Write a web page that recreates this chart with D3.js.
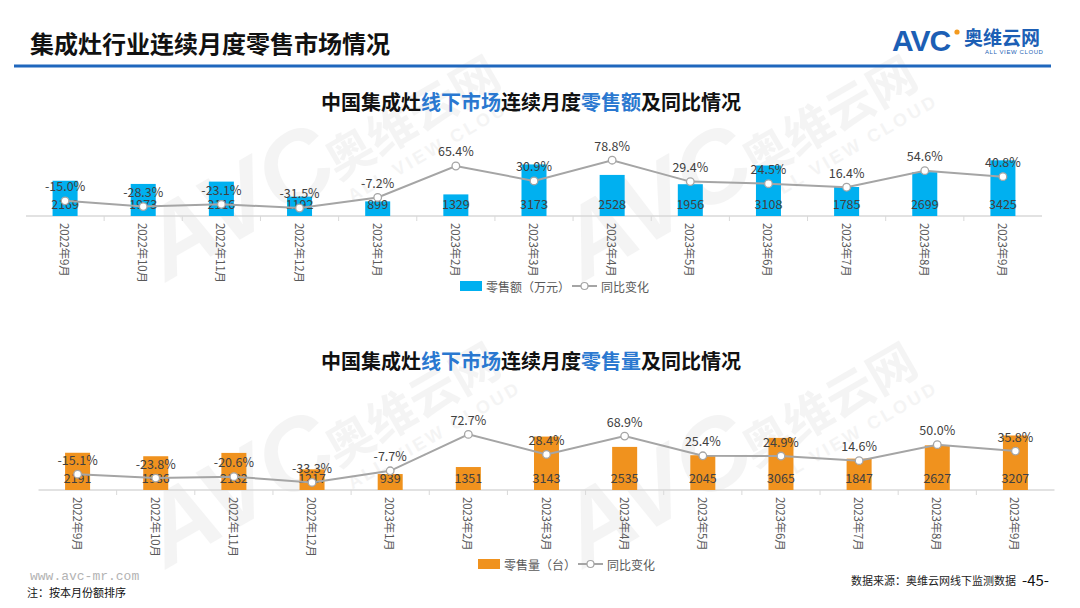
<!DOCTYPE html>
<html><head><meta charset="utf-8">
<script src="https://cdn.jsdelivr.net/npm/d3@7/dist/d3.min.js"></script>
<style>
html,body{margin:0;padding:0;background:#fff;}
svg{display:block;font-family:"Noto Sans CJK SC","Noto Sans",sans-serif;}
</style></head>
<body><svg id="c" width="1080" height="608"></svg>
<script>
const categories = ["2022年9月","2022年10月","2022年11月","2022年12月","2023年1月","2023年2月","2023年3月","2023年4月","2023年5月","2023年6月","2023年7月","2023年8月","2023年9月"];
const salesValue = [2169,1973,2116,1192,899,1329,3173,2528,1956,3108,1785,2699,3425];
const salesValueYoY = [-15.0,-28.3,-23.1,-31.5,-7.2,65.4,30.9,78.8,29.4,24.5,16.4,54.6,40.8];
const salesVolume = [2191,1986,2182,1217,939,1351,3143,2535,2045,3065,1847,2627,3207];
const salesVolumeYoY = [-15.1,-23.8,-20.6,-33.3,-7.7,72.7,28.4,68.9,25.4,24.9,14.6,50.0,35.8];
const barDomain = [0, 4000];
const lineDomain = [-50, 100];

const svg = d3.select("#c");
const CJK = "Noto Sans CJK SC, Noto Sans, sans-serif";

// watermarks
function watermark(cx, cy){
  const g = svg.append("g").attr("transform",`translate(${cx},${cy}) rotate(-30)`)
    .attr("fill","#000").attr("opacity",0.04).style("pointer-events","none");
  g.append("text").attr("x",-185).attr("y",18).attr("text-anchor","middle")
    .attr("font-family","Liberation Sans, Arial, sans-serif").attr("font-weight","bold")
    .attr("font-style","italic").attr("font-size",100).text("AVC");
  g.append("text").attr("x",8).attr("y",16).attr("text-anchor","middle")
    .attr("font-weight","bold").attr("font-size",48).text("奥维云网");
  g.append("text").attr("x",12).attr("y",42).attr("text-anchor","middle")
    .attr("font-family","Liberation Sans, Arial, sans-serif").attr("font-weight","bold")
    .attr("font-size",18).attr("letter-spacing",3).text("ALL VIEW CLOUD");
}
[[406,123],[823,123],[406,410],[823,410]].forEach(p=>watermark(p[0],p[1]));

// header
svg.append("text").attr("x",30).attr("y",53).attr("font-size",24).attr("font-weight","bold")
  .attr("fill","#111").text("集成灶行业连续月度零售市场情况");
svg.append("line").attr("x1",14).attr("x2",1051).attr("y1",66).attr("y2",66)
  .attr("stroke","#1f67bd").attr("stroke-width",3);
// logo
const logo = svg.append("g");
logo.append("text").attr("x",892).attr("y",51).attr("font-family","Liberation Sans, Arial, sans-serif")
  .attr("font-weight","bold").attr("font-size",30).attr("fill","#1c5fb5").attr("letter-spacing",-1).text("AVC");
logo.append("circle").attr("cx",957).attr("cy",32).attr("r",2.6).attr("fill","#f39a1e");
logo.append("text").attr("x",964).attr("y",45).attr("font-weight","bold").attr("font-size",19)
  .attr("fill","#1c5fb5").text("奥维云网");
logo.append("text").attr("x",985).attr("y",54).attr("font-family","Liberation Sans, Arial, sans-serif")
  .attr("font-size",6).attr("fill","#1c5fb5").attr("letter-spacing",0.6).text("ALL VIEW CLOUD");

function chart(opt){
  const x = d3.scaleBand().domain(categories).range([opt.x0, opt.x1]).paddingInner(0.68).paddingOuter(0.34);
  const xc = d => x(d) + x.bandwidth()/2;
  const yb = d3.scaleLinear().domain(barDomain).range([opt.base, opt.top]);
  const yl = d3.scaleLinear().domain(lineDomain).range([opt.base, opt.top]);

  // title
  const t = svg.append("text").attr("x",531).attr("y",opt.titleY).attr("text-anchor","middle")
    .attr("font-size",20).attr("font-weight","bold").attr("fill","#111");
  opt.title.forEach(([s,blue])=>t.append("tspan").attr("fill",blue?"#2a78d0":"#111").text(s));

  // axis
  const step = x.step();
  const axis = d3.axisBottom(x).tickSize(0).tickFormat("");
  const ag = svg.append("g").attr("transform",`translate(0,${opt.base})`).call(axis)
    .attr("font-family",CJK);
  ag.select(".domain").attr("stroke","#d9d9d9").attr("stroke-width",1.3)
    .attr("d",`M${opt.x0},0H${opt.x1}`);
  ag.selectAll(".bnd").data(categories.slice(1)).join("line").attr("class","bnd")
    .attr("x1",d=>xc(d)-step/2).attr("x2",d=>xc(d)-step/2).attr("y1",0).attr("y2",5)
    .attr("stroke","#d9d9d9");
  ag.selectAll(".lab").data(categories).join("text").attr("class","lab")
    .attr("transform",d=>`translate(${xc(d)},7) rotate(90)`)
    .attr("text-anchor","start").attr("dominant-baseline","central")
    .attr("font-size",11.5).attr("letter-spacing",-0.2).attr("fill","#595959").text(d=>d);

  // bars
  svg.append("g").selectAll("rect").data(opt.bars).join("rect")
    .attr("x",(d,i)=>x(categories[i])).attr("width",x.bandwidth())
    .attr("y",d=>yb(d)).attr("height",d=>yb(0)-yb(d)).attr("fill",opt.color);
  svg.append("g").selectAll("text").data(opt.bars).join("text")
    .attr("x",(d,i)=>xc(categories[i])).attr("y",opt.base-13).attr("text-anchor","middle")
    .attr("dominant-baseline","central").attr("font-size",12.5).attr("fill","#404040").text(d=>d);

  // line
  const line = d3.line().x((d,i)=>xc(categories[i])).y(d=>yl(d));
  svg.append("path").datum(opt.yoy).attr("d",line).attr("fill","none")
    .attr("stroke","#a5a5a5").attr("stroke-width",2);
  svg.append("g").selectAll("circle").data(opt.yoy).join("circle")
    .attr("cx",(d,i)=>xc(categories[i])).attr("cy",d=>yl(d)).attr("r",3.8)
    .attr("fill","#fff").attr("stroke","#a5a5a5").attr("stroke-width",1.3);
  svg.append("g").selectAll("text").data(opt.yoy).join("text")
    .attr("x",(d,i)=>xc(categories[i])).attr("y",d=>yl(d)-15).attr("text-anchor","middle")
    .attr("dominant-baseline","central").attr("font-size",12.5).attr("fill","#404040")
    .text(d=>d.toFixed(1)+"%");

  // legend
  const lg = svg.append("g").attr("font-size",12).attr("fill","#595959");
  lg.append("rect").attr("x",opt.legX).attr("y",opt.legY-5).attr("width",22).attr("height",10).attr("fill",opt.color);
  lg.append("text").attr("x",opt.legX+26).attr("y",opt.legY).attr("dominant-baseline","central").text(opt.legName);
  lg.append("line").attr("x1",opt.legX2).attr("x2",opt.legX2+25).attr("y1",opt.legY).attr("y2",opt.legY)
    .attr("stroke","#a5a5a5").attr("stroke-width",2);
  lg.append("circle").attr("cx",opt.legX2+12.5).attr("cy",opt.legY).attr("r",3.5)
    .attr("fill","#fff").attr("stroke","#a5a5a5").attr("stroke-width",1.2);
  lg.append("text").attr("x",opt.legX2+29).attr("y",opt.legY).attr("dominant-baseline","central").text("同比变化");
}

chart({x0:26, x1:1042, base:216, top:151, color:"#00b0f0", bars:salesValue, yoy:salesValueYoY,
  titleY:110, title:[["中国集成灶",false],["线下市场",true],["连续月度",false],["零售额",true],["及同比情况",false]],
  legX:460, legY:286, legName:"零售额（万元）", legX2:572});
chart({x0:38.5, x1:1054.5, base:490, top:422, color:"#f0921e", bars:salesVolume, yoy:salesVolumeYoY,
  titleY:369, title:[["中国集成灶",false],["线下市场",true],["连续月度",false],["零售量",true],["及同比情况",false]],
  legX:478, legY:564, legName:"零售量（台）", legX2:578});

// footer
svg.append("text").attr("x",30).attr("y",580).attr("font-family","Liberation Mono, monospace")
  .attr("font-size",13).attr("fill","#b3b3b3").text("www.avc-mr.com");
svg.append("text").attr("x",27).attr("y",597).attr("font-size",11).attr("fill","#111").text("注：按本月份额排序");
svg.append("text").attr("x",851).attr("y",585).attr("font-size",11).attr("fill","#222").text("数据来源：奥维云网线下监测数据");
svg.append("text").attr("x",1022).attr("y",586).attr("font-size",15).attr("fill","#111").text("-45-");
</script></body></html>
